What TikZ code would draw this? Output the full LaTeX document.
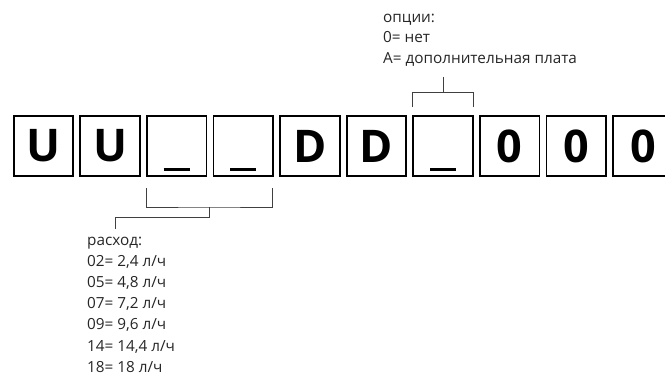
\documentclass[tikz,border=0pt]{standalone}
\usepackage{fontspec}
\setmainfont{Open Sans}
\newcommand{\blank}{\raisebox{-8.8pt}[0pt][0pt]{\rule{26pt}{2.8pt}}}
\begin{document}
\begin{tikzpicture}[x=1pt,y=-1pt,
  cell/.style={draw=black,line width=1.8pt,minimum width=59.7pt,minimum height=60.2pt,inner sep=0pt,
    font=\fontsize{45}{45}\selectfont\bfseries},
  brk/.style={draw=black!75,line width=0.9pt},
  lbl/.style={anchor=base west,inner sep=0pt,font=\fontsize{15.3}{15.3}\selectfont,text=black!85}]
\useasboundingbox (0,0) rectangle (665,381);
\clip (0,0) rectangle (665,381);
\foreach \i/\t in {1/U,2/U,3/\blank,4/\blank,5/D,6/D,7/\blank,8/0,9/0,10/0}{
  \node[cell] (c\i) at ({12.7+66.6*(\i-1)+30.75},146) {\vphantom{D}\t};
}
% bottom bracket
\coordinate (b1) at (146,188);
\coordinate (b2) at (272,188);
\coordinate (bm) at (209,207);
\coordinate (bs) at (209,217);
\coordinate (bl) at (115,229);
\draw[brk] (b1) |- (bm) -| (b2);
\draw[brk] (bm) -- (bs) -| (bl);
% top bracket
\coordinate (t1) at (412.7,107);
\coordinate (t2) at (473.3,107);
\coordinate (tm) at (443,92.7);
\coordinate (ts) at (443,77);
\draw[brk] (t1) |- (tm) -| (t2);
\draw[brk] (tm) -- (ts);
% labels
\node[lbl] (o1) at (383,22) {опции:};
\node[lbl] (o2) at (383,42.5) {0= нет};
\node[lbl] (o3) at (383,63) {A= дополнительная плата};
\node[lbl] (r0) at (87,245) {расход:};
\node[lbl] (r1) at (87,266.2) {02= 2,4 л/ч};
\node[lbl] (r2) at (87,287.4) {05= 4,8 л/ч};
\node[lbl] (r3) at (87,308.6) {07= 7,2 л/ч};
\node[lbl] (r4) at (87,329.8) {09= 9,6 л/ч};
\node[lbl] (r5) at (87,351) {14= 14,4 л/ч};
\node[lbl] (r6) at (87,372) {18= 18 л/ч};
\end{tikzpicture}
\end{document}
